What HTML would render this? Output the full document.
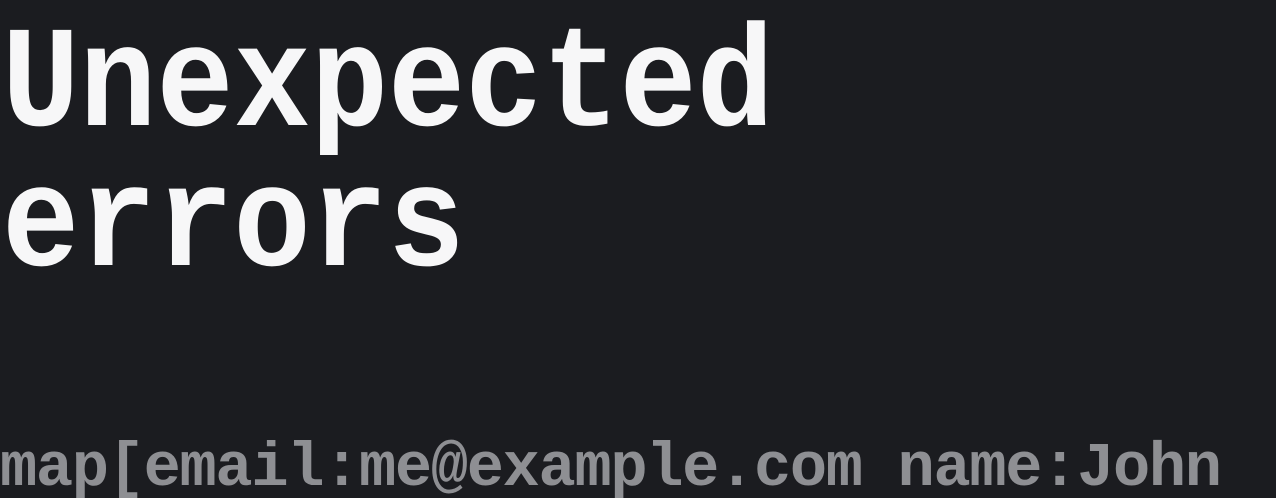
<!DOCTYPE html>
<html><head><meta charset="utf-8"><style>
html,body{margin:0;padding:0;background:#1b1c20;width:1276px;height:498px;overflow:hidden}
svg{display:block}
text{font-family:"Liberation Mono",monospace;font-weight:bold}
</style></head><body>
<svg width="1276" height="498" viewBox="0 0 1276 498">
<rect width="1276" height="498" fill="#1b1c20"/>
<g transform="scale(1,1.12)">
<text x="2" y="111.6" font-size="129" fill="#f7f7f8" textLength="772" lengthAdjust="spacing">Unexpected</text>
<text x="2" y="236.6" font-size="129" fill="#f7f7f8" textLength="463" lengthAdjust="spacing">errors</text>
</g>
<text x="0" y="485" font-size="62" fill="#8e8f93" textLength="1222" lengthAdjust="spacing">map[email:me@example.com name:John</text>
</svg>
</body></html>
